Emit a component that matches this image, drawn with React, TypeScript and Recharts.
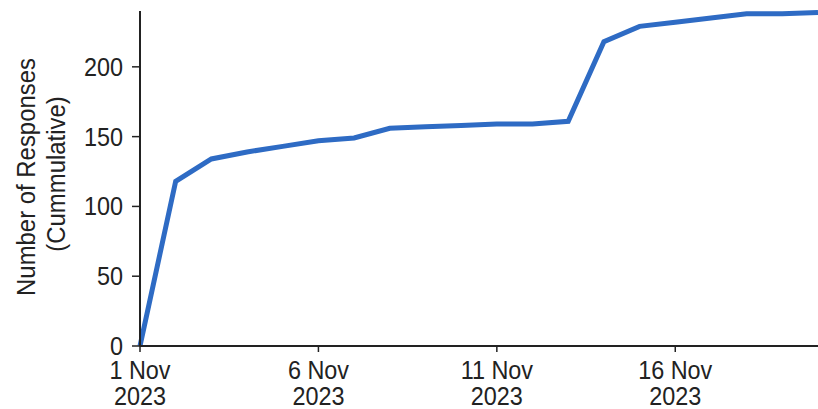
import React from "react"
import { LineChart, Line, XAxis, YAxis } from "recharts"

// days of November 2023
const days = [1, 2, 3, 4, 5, 6, 7, 8, 9, 10, 11, 12, 13, 14, 15, 16, 17, 18, 19, 20]
const responses = [0, 118, 134, 139, 143, 147, 149, 156, 157, 158, 159, 159, 161, 218, 229, 232, 235, 238, 238, 239]

const xTicks = [1, 6, 11, 16]
const xTickLabels: Record<number, string> = { 1: "1 Nov", 6: "6 Nov", 11: "11 Nov", 16: "16 Nov" }
const tickYear = "2023"
const yTicks = [0, 50, 100, 150, 200]
const yTitle = ["Number of Responses", "(Cummulative)"]

const data = days.map((d, i) => ({ day: d, total: responses[i] }))

const FONT = "'Liberation Sans', Arial, sans-serif"
const TEXT = "#222"

function YTick({ x, y, payload }: any) {
  return (
    <g transform={`translate(${x},${y}) scale(0.9,1)`}>
      <text x={0} y={0} dy={9} textAnchor="end" fontSize={26} fontFamily={FONT} fill={TEXT}>
        {payload.value}
      </text>
    </g>
  )
}

function XTick({ x, y, payload }: any) {
  return (
    <g transform={`translate(${x},${y}) scale(0.9,1)`}>
      <text x={0} y={25} textAnchor="middle" fontSize={26} fontFamily={FONT} fill={TEXT}>
        {xTickLabels[payload.value]}
      </text>
      <text x={0} y={51} textAnchor="middle" fontSize={26} fontFamily={FONT} fill={TEXT}>
        {tickYear}
      </text>
    </g>
  )
}

export default function App() {
  return (
    <div style={{ position: "absolute", left: 0, top: 0, width: 818, height: 409, background: "#fff" }}>
      <LineChart width={818} height={409} data={data} margin={{ top: 11, right: 0, bottom: 0, left: 80 }}>
        <XAxis
          dataKey="day"
          type="number"
          domain={[1, 20]}
          ticks={xTicks}
          tick={<XTick />}
          tickSize={6}
          tickMargin={2}
          height={63}
          axisLine={{ stroke: "#222", strokeWidth: 2 }}
          tickLine={{ stroke: "#222", strokeWidth: 1.5 }}
        />
        <YAxis
          type="number"
          domain={[0, 240]}
          ticks={yTicks}
          tick={<YTick />}
          tickSize={8}
          tickMargin={9}
          width={60}
          axisLine={{ stroke: "#222", strokeWidth: 2 }}
          tickLine={{ stroke: "#222", strokeWidth: 1.5 }}
        />
        <Line
          type="linear"
          dataKey="total"
          stroke="#2e6bc4"
          strokeWidth={5}
          dot={false}
          isAnimationActive={false}
        />
        <g>
          <text
            transform="translate(26,177) rotate(-90) scale(0.92,1)"
            textAnchor="middle"
            dominantBaseline="central"
            fontSize={26}
            fontFamily={FONT}
            fill={TEXT}
          >
            {yTitle[0]}
          </text>
          <text
            transform="translate(56,174) rotate(-90) scale(0.92,1)"
            textAnchor="middle"
            dominantBaseline="central"
            fontSize={26}
            fontFamily={FONT}
            fill={TEXT}
          >
            {yTitle[1]}
          </text>
        </g>
      </LineChart>
    </div>
  )
}
